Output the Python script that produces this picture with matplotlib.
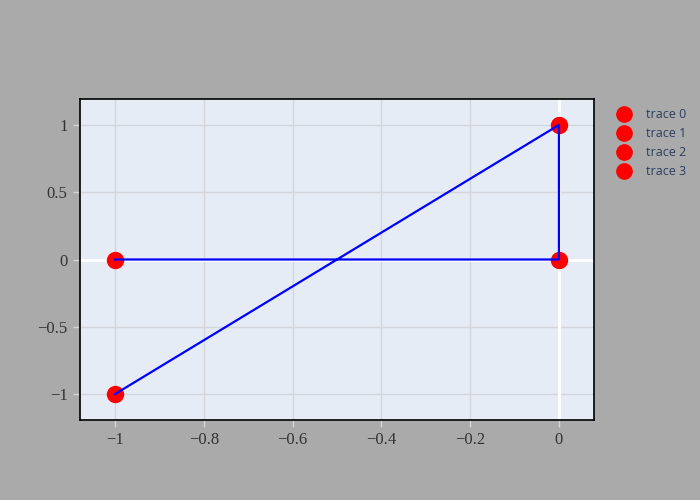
import matplotlib.pyplot as plt
from matplotlib.lines import Line2D

# points, one trace each
xs = [-1, -1, 0, 0]
ys = [-1, 0, 0, 1]
names = ['trace 0', 'trace 1', 'trace 2', 'trace 3']
# blue line path between points (indices into xs/ys)
path = [0, 3, 2, 1]

xticks = [-1, -0.8, -0.6, -0.4, -0.2, 0]
yticks = [-1, -0.5, 0, 0.5, 1]

fig = plt.figure(figsize=(7, 5), dpi=100, facecolor='#aaaaaa')
ax = fig.add_axes([80 / 700, 80 / 500, 514 / 700, 321 / 500])
ax.set_facecolor('#e5ecf6')

ax.set_xlim(-1.079, 0.079)
ax.set_ylim(-1.193, 1.193)
ax.set_xticks(xticks)
ax.set_yticks(yticks)
ax.set_xticklabels(['\u22121', '\u22120.8', '\u22120.6', '\u22120.4', '\u22120.2', '0'])
ax.set_yticklabels(['\u22121', '\u22120.5', '0', '0.5', '1'])
ax.grid(True, color='#d4d6db', linewidth=1)
ax.set_axisbelow(True)
ax.axhline(0, color='white', linewidth=2, zorder=1)
ax.axvline(0, color='white', linewidth=2, zorder=1)

ax.tick_params(length=5, width=1, color='#d4d6db', labelcolor='#333333',
               labelsize=12, pad=4)
for lab in ax.get_xticklabels() + ax.get_yticklabels():
    lab.set_family('Liberation Serif')
for s in ax.spines.values():
    s.set_color('black')
    s.set_linewidth(1.2)

ax.plot([xs[i] for i in path], [ys[i] for i in path], color='blue',
        linewidth=1.6, zorder=4)
for x, y, n in zip(xs, ys, names):
    ax.plot([x], [y], 'o', color='red', markersize=11.5, label=n, zorder=3,
            clip_on=False)

handles = [Line2D([], [], marker='o', color='red', linestyle='none', markersize=11)
           for _ in names]
leg = fig.legend(handles, names, loc='upper left', bbox_to_anchor=(614 / 700, 1 - 108 / 500),
                 frameon=False, handletextpad=1.0, labelspacing=0.48,
                 prop={'family': 'Open Sans', 'size': 9}, handlelength=1.6,
                 borderpad=0, borderaxespad=0)
for t in leg.get_texts():
    t.set_color('#2a3f5f')

fig.savefig('out.png', dpi=100, facecolor='#aaaaaa')
